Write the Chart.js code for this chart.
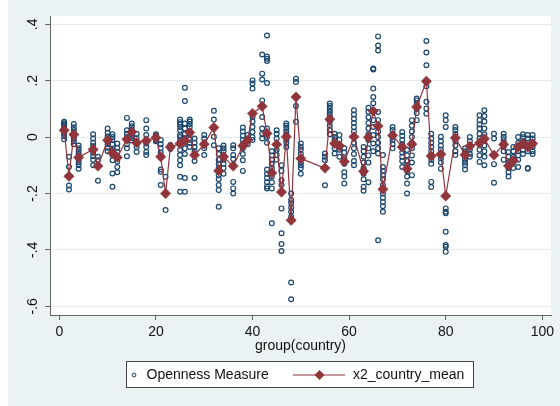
<!DOCTYPE html>
<html>
<head>
<meta charset="utf-8">
<script src="https://cdn.jsdelivr.net/npm/chart.js@4.4.0/dist/chart.umd.min.js"></script>
<style>
  html, body { margin: 0; padding: 0; background: #ffffff; }
  canvas { display: block; }
</style>
</head>
<body>
<canvas id="chart" width="560" height="406"></canvas>
<script>
// Country means of the openness measure (connected diamonds)
const meanGroups = [1, 2, 3, 4, 7, 8, 10, 11, 12, 14, 15, 16, 18, 20, 21, 22, 23, 25, 26, 27, 28, 30, 32, 33, 34, 36, 38, 39, 40, 42, 43, 44, 45, 46, 47, 48, 49, 50, 55, 56, 57, 58, 59, 61, 63, 64, 65, 66, 67, 69, 71, 72, 73, 74, 76, 77, 79, 80, 82, 84, 85, 87, 88, 90, 92, 93, 94, 95, 96, 97, 98];
const meanValues = [0.024, -0.139, 0.009, -0.072, -0.044, -0.103, -0.011, -0.056, -0.072, -0.008, 0.018, -0.020, -0.013, -0.002, -0.070, -0.200, -0.035, -0.023, -0.013, 0.016, -0.064, -0.025, 0.034, -0.120, -0.070, -0.103, -0.031, -0.011, 0.084, 0.109, 0.013, -0.127, -0.026, -0.195, 0.001, -0.295, 0.142, -0.076, -0.110, 0.063, -0.023, -0.031, -0.087, 0.001, -0.121, -0.001, 0.092, 0.039, -0.185, 0.006, -0.035, -0.112, -0.025, 0.107, 0.198, -0.067, -0.061, -0.209, -0.003, -0.063, -0.032, -0.021, -0.006, -0.064, -0.026, -0.102, -0.083, -0.035, -0.023, -0.035, -0.023];

// Individual observations of the openness measure, one list per country group
const obsGroups = meanGroups;
const obsValues = [
  [0.054, 0.049, 0.044, 0.039, 0.033, 0.027, 0.020, 0.012, 0.004, -0.008],
  [-0.070, -0.105, -0.140, -0.172, -0.186],
  [0.046, 0.035, 0.025, 0.015, 0.005, -0.005, -0.015, -0.025],
  [-0.030, -0.040, -0.050, -0.060, -0.070, -0.080, -0.090, -0.100, -0.112],
  [0.010, -0.005, -0.020, -0.032, -0.044, -0.056, -0.068, -0.080, -0.100],
  [-0.070, -0.082, -0.103, -0.155],
  [0.030, 0.015, 0.002, -0.012, -0.025, -0.038, -0.050],
  [0.010, 0.000, -0.011, -0.025, -0.046, -0.064, -0.082, -0.129, -0.176],
  [-0.023, -0.038, -0.053, -0.070, -0.087, -0.106, -0.125],
  [0.068, 0.024, 0.012, 0.000, -0.011, -0.025, -0.040, -0.068],
  [0.048, 0.038, 0.028, 0.018, 0.008, -0.003, -0.012],
  [0.012, -0.005, -0.020, -0.035, -0.053],
  [0.060, 0.030, 0.007, -0.023, -0.035, -0.053, -0.064],
  [0.010, 0.005, 0.000, -0.005, -0.012, -0.015],
  [-0.010, -0.025, -0.040, -0.055, -0.070, -0.115, -0.123, -0.170],
  [-0.141, -0.200, -0.259],
  [-0.028, -0.042],
  [0.062, 0.053, 0.045, 0.036, 0.024, 0.007, 0.000, -0.011, -0.025, -0.046, -0.064, -0.082, -0.100, -0.141, -0.194],
  [0.175, 0.128, 0.048, 0.030, 0.012, -0.005, -0.020, -0.040, -0.060, -0.145, -0.194],
  [0.062, 0.055, 0.046, 0.035, 0.020, 0.010, -0.010, -0.020, -0.035],
  [-0.005, -0.020, -0.035, -0.050, -0.065, -0.085, -0.145],
  [0.007, -0.005, -0.025, -0.040, -0.064],
  [0.093, 0.062, 0.034, 0.001, -0.029],
  [-0.040, -0.060, -0.080, -0.095, -0.110, -0.120, -0.135, -0.150, -0.170, -0.188, -0.247],
  [-0.030, -0.040, -0.050, -0.065, -0.080, -0.095, -0.110, -0.130],
  [-0.029, -0.040, -0.064, -0.078, -0.159, -0.182, -0.200],
  [0.034, 0.020, 0.005, -0.010, -0.025, -0.040, -0.060, -0.082, -0.120],
  [0.007, -0.005, -0.015, -0.025],
  [0.201, 0.190, 0.172, 0.071, 0.055, 0.036, 0.018, 0.000, -0.010],
  [0.293, 0.225, 0.204, 0.130, 0.071, 0.030, 0.012, -0.005],
  [0.360, 0.286, 0.278, 0.270, 0.192, 0.030, 0.000, -0.020, -0.115, -0.130, -0.145, -0.160, -0.175, -0.182],
  [-0.050, -0.065, -0.080, -0.095, -0.110, -0.125, -0.140, -0.160, -0.182, -0.306],
  [0.024, 0.012, -0.005, -0.025, -0.046, -0.064, -0.080],
  [-0.100, -0.120, -0.153, -0.170, -0.253, -0.341, -0.379, -0.404],
  [0.048, 0.040, 0.030, 0.020, 0.010, 0.000, -0.010, -0.020, -0.035],
  [-0.200, -0.223, -0.235, -0.250, -0.265, -0.283, -0.516, -0.575],
  [0.207, 0.195, 0.110, 0.054],
  [-0.023, -0.035, -0.045, -0.060, -0.075, -0.090, -0.100, -0.110, -0.130],
  [-0.058, -0.070, -0.082, -0.171],
  [0.119, 0.110, 0.100, 0.090, 0.080, 0.070, 0.055, 0.040, 0.025, 0.010],
  [0.012, 0.000, -0.010, -0.025, -0.040, -0.058],
  [0.007, -0.010, -0.030, -0.045, -0.070],
  [-0.040, -0.055, -0.075, -0.095, -0.125, -0.140, -0.165],
  [0.095, 0.080, 0.065, 0.050, 0.035, 0.020, 0.000, -0.020, -0.040, -0.060, -0.085, -0.100],
  [-0.035, -0.050, -0.070, -0.090, -0.110, -0.130, -0.150, -0.176, -0.190],
  [0.104, 0.090, 0.070, 0.050, 0.030, 0.010, -0.010, -0.040, -0.065, -0.090, -0.160],
  [0.243, 0.240, 0.172, 0.142, 0.120, 0.095, 0.060, 0.036, 0.007, -0.023, -0.050],
  [0.357, 0.325, 0.307, 0.089, 0.060, 0.040, 0.020, 0.000, -0.020, -0.040, -0.058, -0.366],
  [-0.064, -0.106, -0.120, -0.135, -0.150, -0.170, -0.200, -0.215, -0.230, -0.245, -0.265],
  [0.036, 0.025, 0.012, 0.000, -0.010, -0.025, -0.040],
  [0.018, 0.005, -0.010, -0.025, -0.040, -0.055, -0.070, -0.085, -0.106],
  [-0.046, -0.065, -0.085, -0.100, -0.120, -0.140, -0.165, -0.200],
  [0.060, 0.040, 0.020, 0.000, -0.020, -0.040, -0.065, -0.090, -0.135],
  [0.137, 0.130, 0.120, 0.100, 0.085, 0.060],
  [0.341, 0.300, 0.255, 0.180, 0.125, 0.101, 0.083],
  [0.012, -0.005, -0.020, -0.035, -0.050, -0.065, -0.080, -0.095, -0.159, -0.177],
  [0.001, -0.015, -0.030, -0.045, -0.060, -0.075, -0.090, -0.112],
  [0.077, 0.060, 0.036, -0.253, -0.265, -0.270, -0.336, -0.383, -0.389, -0.407],
  [0.036, 0.025, 0.012, 0.000, -0.015, -0.030, -0.050, -0.064],
  [-0.040, -0.050, -0.060, -0.070, -0.080, -0.090, -0.100, -0.115],
  [0.000, -0.015, -0.030, -0.045, -0.060, -0.070],
  [0.077, 0.060, 0.045, 0.030, 0.012, -0.005, -0.025, -0.045, -0.065, -0.088],
  [0.095, 0.075, 0.055, 0.030, 0.010, -0.010, -0.030, -0.050, -0.070, -0.100],
  [0.012, -0.005, -0.064, -0.096, -0.162],
  [0.012, 0.000, -0.010, -0.020, -0.035, -0.050, -0.080],
  [-0.053, -0.070, -0.090, -0.110, -0.125, -0.140],
  [-0.035, -0.050, -0.070, -0.090, -0.110],
  [0.000, -0.020, -0.035, -0.050, -0.065, -0.080, -0.106],
  [0.010, 0.000, -0.015, -0.030, -0.045, -0.060],
  [0.007, -0.005, -0.020, -0.035, -0.050, -0.110, -0.112],
  [0.007, -0.005, -0.020, -0.035, -0.050, -0.060]
];

const xTicks = [0, 20, 40, 60, 80, 100];
const yTicks = [-0.6, -0.4, -0.2, 0, 0.2, 0.4];
const yTickLabels = ['-.6', '-.4', '-.2', '0', '.2', '.4'];
const xTitle = 'group(country)';
const seriesNames = ['Openness Measure', 'x2_country_mean'];

const NAVY = '#1a476f';
const MAROON = '#90353b';
const BG = '#eaf2f3';
const GRID = '#e3ecee';
const AXIS = '#666666';
const FONT = '14px "Liberation Sans", Arial, sans-serif';

const obsPoints = [];
obsGroups.forEach((g, i) => obsValues[i].forEach(v => obsPoints.push({ x: g, y: v })));
const meanPoints = meanGroups.map((g, i) => ({ x: g, y: meanValues[i] }));

// Stata-style frame: tinted graph region, white plot region, rotated y labels, boxed legend
const frame = {
  id: 'frame',
  beforeDraw(chart) {
    const { ctx, chartArea: a } = chart;
    ctx.save();
    ctx.fillStyle = BG;
    ctx.fillRect(8, 0, chart.width - 8, chart.height);
    ctx.fillStyle = '#ffffff';
    ctx.fillRect(a.left, a.top, a.right - a.left, a.bottom - a.top);
    ctx.restore();
  },
  afterDraw(chart) {
    const { ctx, chartArea: a } = chart;
    const xs = chart.scales.x, ys = chart.scales.y;
    ctx.save();
    ctx.fillStyle = '#111111';
    ctx.font = FONT;
    ctx.textAlign = 'center';
    ctx.textBaseline = 'middle';
    xTicks.forEach(v => ctx.fillText(String(v), xs.getPixelForValue(v), 332.5));
    yTicks.forEach((v, i) => {
      ctx.save();
      ctx.translate(33, ys.getPixelForValue(v));
      ctx.rotate(-Math.PI / 2);
      ctx.fillText(yTickLabels[i], 0, 0);
      ctx.restore();
    });
    ctx.fillText(xTitle, (a.left + a.right) / 2, 346.5);

    // legend
    ctx.fillStyle = '#ffffff';
    ctx.fillRect(126.5, 361.5, 347, 26);
    ctx.strokeStyle = '#444444';
    ctx.lineWidth = 1;
    ctx.strokeRect(126.5, 361.5, 347, 26);
    const ly = 375;
    ctx.strokeStyle = NAVY;
    ctx.beginPath();
    ctx.arc(134, ly, 1.9, 0, Math.PI * 2);
    ctx.stroke();
    ctx.strokeStyle = MAROON;
    ctx.lineWidth = 1.2;
    ctx.beginPath();
    ctx.moveTo(293, ly);
    ctx.lineTo(345, ly);
    ctx.stroke();
    ctx.fillStyle = MAROON;
    ctx.beginPath();
    ctx.moveTo(314.5, ly);
    ctx.lineTo(319.5, ly - 5);
    ctx.lineTo(324.5, ly);
    ctx.lineTo(319.5, ly + 5);
    ctx.closePath();
    ctx.fill();
    ctx.fillStyle = '#111111';
    ctx.textAlign = 'left';
    ctx.fillText(seriesNames[0], 146.5, ly);
    ctx.fillText(seriesNames[1], 353, ly);
    ctx.restore();
  }
};

new Chart(document.getElementById('chart'), {
  type: 'scatter',
  data: {
    datasets: [
      {
        label: seriesNames[0],
        data: obsPoints,
        order: 2,
        showLine: false,
        pointStyle: 'circle',
        pointRadius: 2.4,
        pointBorderWidth: 1.2,
        pointBorderColor: NAVY,
        pointBackgroundColor: 'rgba(0,0,0,0)'
      },
      {
        label: seriesNames[1],
        data: meanPoints,
        order: 1,
        showLine: true,
        borderColor: MAROON,
        borderWidth: 1.2,
        pointStyle: 'rectRot',
        pointRadius: 5.2,
        pointBorderWidth: 0.5,
        pointBorderColor: MAROON,
        pointBackgroundColor: MAROON
      }
    ]
  },
  options: {
    responsive: false,
    animation: false,
    devicePixelRatio: 1,
    layout: { padding: { left: 45, top: 16, right: 9, bottom: 86 } },
    plugins: { legend: { display: false }, tooltip: { enabled: false } },
    scales: {
      x: {
        type: 'linear',
        min: -1.93,
        max: 101.8,
        afterBuildTicks: s => { s.ticks = xTicks.map(v => ({ value: v })); },
        ticks: { display: false },
        grid: { drawOnChartArea: false, drawTicks: true, tickLength: 5, tickColor: AXIS },
        border: { display: true, color: AXIS, width: 1 }
      },
      y: {
        type: 'linear',
        min: -0.631,
        max: 0.4294,
        afterBuildTicks: s => { s.ticks = yTicks.map(v => ({ value: v })); },
        ticks: { display: false },
        grid: { color: GRID, lineWidth: 1, drawTicks: true, tickLength: 5, tickColor: AXIS },
        border: { display: true, color: AXIS, width: 1 }
      }
    }
  },
  plugins: [frame]
});
</script>
</body>
</html>
